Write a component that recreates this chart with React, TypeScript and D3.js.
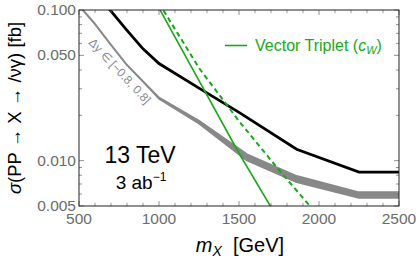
import React from 'react';
import * as d3 from 'd3';

// ---- data ----
const xTickValues = [500, 1000, 1500, 2000, 2500];
const yTickValues = [0.005, 0.01, 0.05, 0.1];
const yTickLabels = ['0.005', '0.010', '0.050', '0.100'];

const blackMass = [600, 700, 800, 900, 1000, 1250, 1500, 1860, 2250, 2500];
const blackSigma = [0.132, 0.0982, 0.0732, 0.0552, 0.0441, 0.0303, 0.0209, 0.0119, 0.0084, 0.0084];

const grayMass = [500, 600, 700, 800, 900, 1000, 1250, 1550, 1860, 2250, 2500];
const grayUpper = [0.107, 0.0807, 0.0586, 0.0431, 0.0335, 0.0262, 0.01835, 0.0110, 0.0079, 0.00616, 0.00616];
const grayLower = [0.107, 0.0807, 0.0586, 0.0431, 0.0335, 0.0258, 0.01766, 0.01003, 0.00721, 0.00567, 0.00567];

const greenSolidMass = [1000, 1250, 1500, 1750];
const greenSolidSigma = [0.103, 0.034, 0.0112, 0.004];

const greenDashMass = [1000, 1250, 1500, 1750, 2000];
const greenDashSigma = [0.111, 0.0412, 0.0183, 0.00867, 0.00425];

const W = 420, H = 263;
const M = { left: 79, top: 10, right: 399, bottom: 206 };
const GREEN = '#19a819';
const FONT = '"Liberation Sans", Arial, sans-serif';
const TICK_COLOR = '#6b6b6b';

export default function App() {
  const x = d3.scaleLinear().domain([500, 2500]).range([M.left, M.right]);
  const y = d3.scaleLog().domain([0.005, 0.1]).range([M.bottom, M.top]);

  const line = d3.line<[number, number]>().x(d => x(d[0])).y(d => y(d[1]));
  const zip = (a: number[], b: number[]) => a.map((v, i) => [v, b[i]] as [number, number]);

  const area = d3.area<number>()
    .x((_, i) => x(grayMass[i]))
    .y0((_, i) => y(grayLower[i]))
    .y1((_, i) => y(grayUpper[i]));

  const xMinor = d3.range(500, 2501, 100);
  const yMinor: number[] = [];
  [0.001, 0.01].forEach(dec => { for (let k = 1; k <= 9; k++) { const v = dec * k; if (v >= 0.005 - 1e-9 && v <= 0.1 + 1e-9) yMinor.push(v); } });
  yMinor.push(0.1);

  const isMajorX = (v: number) => v % 500 === 0;
  const isMajorY = (v: number) => yTickValues.some(t => Math.abs(t - v) < 1e-9);

  return (
    <svg width={W} height={H} style={{ position: 'absolute', left: 0, top: 0, background: '#fff' }} fontFamily={FONT}>
      <defs>
        <clipPath id="plotclip">
          <rect x={M.left} y={M.top} width={M.right - M.left} height={M.bottom - M.top} />
        </clipPath>
      </defs>

      <g clipPath="url(#plotclip)">
        <path d={area(grayMass) || ''} fill="#888" stroke="#888" strokeWidth={2} strokeLinejoin="round" />
        <path d={line(zip(blackMass, blackSigma)) || ''} fill="none" stroke="#000" strokeWidth={2.8} />
        <path d={line(zip(greenSolidMass, greenSolidSigma)) || ''} fill="none" stroke={GREEN} strokeWidth={1.6} />
        <path d={line(zip(greenDashMass, greenDashSigma)) || ''} fill="none" stroke={GREEN} strokeWidth={2} strokeDasharray="5,3.5" />
      </g>

      {/* ticks */}
      {xMinor.map(v => {
        const len = isMajorX(v) ? 5 : 3;
        return (
          <g key={'xt' + v} stroke="#777" strokeWidth={0.8}>
            <line x1={x(v)} x2={x(v)} y1={M.bottom} y2={M.bottom - len} />
            <line x1={x(v)} x2={x(v)} y1={M.top} y2={M.top + len} />
          </g>
        );
      })}
      {yMinor.map(v => {
        const len = isMajorY(v) ? 5 : 3;
        return (
          <g key={'yt' + v} stroke="#777" strokeWidth={0.8}>
            <line x1={M.left} x2={M.left + len} y1={y(v)} y2={y(v)} />
            <line x1={M.right} x2={M.right - len} y1={y(v)} y2={y(v)} />
          </g>
        );
      })}

      <rect x={M.left} y={M.top} width={M.right - M.left} height={M.bottom - M.top} fill="none" stroke="#222" strokeWidth={1} />

      {xTickValues.map(v => (
        <text key={'xl' + v} x={x(v)} y={M.bottom + 18} textAnchor="middle" fontSize={15.5} fill={TICK_COLOR}>{v}</text>
      ))}
      {yTickValues.map((v, i) => (
        <text key={'yl' + v} x={M.left - 3} y={y(v) + 5} textAnchor="end" fontSize={15.5} fill={TICK_COLOR}>{yTickLabels[i]}</text>
      ))}

      {/* axis titles */}
      <text transform={`translate(21,${108}) rotate(-90)`} textAnchor="middle" fontSize={18.5} fill="#000">
        <tspan fontStyle="italic">σ</tspan>(PP → X → /νγ) [fb]
      </text>
      <text x={240} y={252} textAnchor="middle" fontSize={20} fill="#000">
        <tspan fontStyle="italic">m</tspan><tspan fontStyle="italic" fontSize={14} dy={4}>X</tspan><tspan dy={-4}>{'\u00a0\u00a0'}[GeV]</tspan>
      </text>

      {/* legend */}
      <line x1={225} x2={247} y1={45.5} y2={45.5} stroke={GREEN} strokeWidth={1.6} />
      <text x={255} y={51} fontSize={16} fill={GREEN}>
        Vector Triplet (<tspan fontStyle="italic">c</tspan><tspan fontStyle="italic" fontSize={11} dy={3}>W</tspan><tspan dy={-3}>)</tspan>
      </text>

      {/* annotations */}
      <text x={140} y={163} textAnchor="middle" fontSize={23} fill="#000">13 TeV</text>
      <text x={141} y={189} textAnchor="middle" fontSize={19} fill="#000">3 ab<tspan fontSize={12} dy={-8}>−1</tspan></text>

      <text transform="translate(88,43) rotate(47)" fontSize={12} fill="#888">Δy ∈ [−0.8, 0.8]</text>
    </svg>
  );
}
